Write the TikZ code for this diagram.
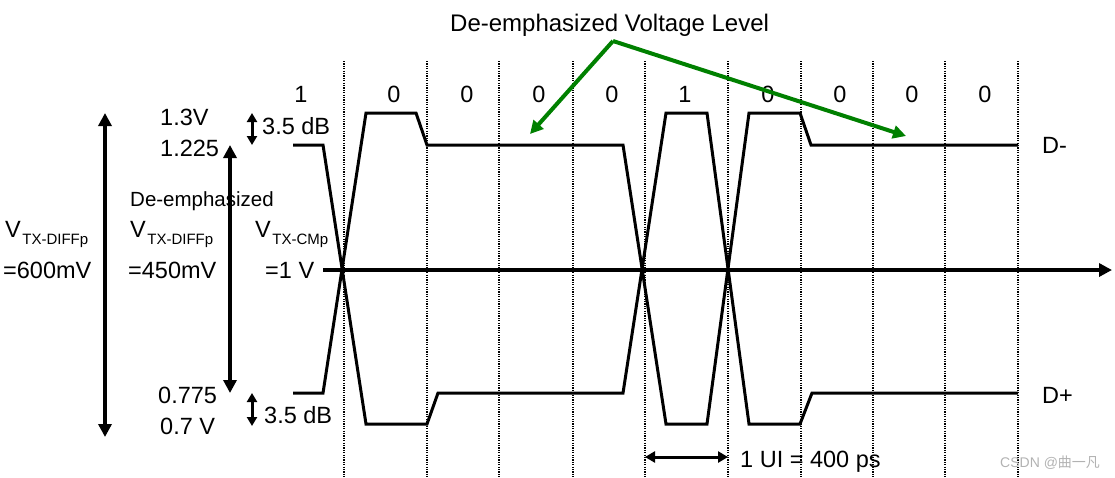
\documentclass[tikz,border=0pt]{standalone}
\usepackage{fontspec}
\setmainfont{Liberation Sans}
\newfontfamily\cjkfont{Noto Sans CJK SC}
\usetikzlibrary{arrows.meta}
\tikzset{>={Triangle[length=13pt,width=13pt]}}
\colorlet{background}{white}
\colorlet{penColor}{black}
\colorlet{penColor2}{green!50!black}
\colorlet{markColor}{black!30}
\tikzset{
  wave/.style={penColor, line width=3pt},
  slot/.style={penColor, line width=2pt, dash pattern=on 1.2pt off 1.2pt},
  lbl/.style={inner sep=0pt, anchor=base west, font=\fontsize{23.5}{28}\selectfont},
  bit/.style={inner sep=0pt, anchor=base, font=\fontsize{23.5}{28}\selectfont},
  small/.style={line width=3pt, {Triangle[length=9pt,width=10pt]}-{Triangle[length=9pt,width=10pt]}},
}
\newcommand{\vsub}[1]{V\kern1.5pt\raisebox{-7pt}{\fontsize{15}{18}\selectfont #1}}

\begin{document}
\begin{tikzpicture}[x=1pt,y=-1pt]
\useasboundingbox (0,0) rectangle (1115,477);
% unit interval boundaries
\foreach \x in {344,427,499,573,645,728,801,873,945,1018}
  \draw[slot] (\x,61) -- (\x,477);
% bit values
\foreach \x/\b in {301/1,394/0,467/0,539/0,612/0,685/1,768/0,840/0,912/0,985/0}
  \node[bit] at (\x,102) {\b};
% common mode axis
\coordinate (ax0) at (323,270);
\coordinate (ax1) at (1112,270);
\draw[penColor, line width=4pt, ->] (ax0) -- (ax1);
% the two waveforms
\draw[wave] (293,145) -- (323,145) -- (366,424) -- (427,424) -- (438,393) -- (623,393)
  -- (666,113) -- (707,113) -- (749,424) -- (800,424) -- (812,393) -- (1018,393);
\draw[wave] (293,393) -- (323,393) -- (366,113) -- (416,113) -- (427,145) -- (623,145)
  -- (666,424) -- (707,424) -- (749,113) -- (800,113) -- (811,145) -- (1018,145);
\node[lbl] (dm) at (1042,153) {D-};
\node[lbl] (dp) at (1042,403) {D+};
% swing arrows
\coordinate (full0) at (105,113);
\coordinate (full1) at (105,437);
\draw[penColor, line width=4.5pt, <->] (full0) -- (full1);
\coordinate (deem0) at (230,145);
\coordinate (deem1) at (230,393);
\draw[penColor, line width=4.5pt, <->] (deem0) -- (deem1);
\coordinate (db0) at (252,113);
\coordinate (db1) at (252,145);
\draw[small] (db0) -- (db1);
\coordinate (db2) at (252,393);
\coordinate (db3) at (252,426);
\draw[small] (db2) -- (db3);
% levels
\node[lbl] (v13) at (160,125) {1.3V};
\node[lbl] (v1225) at (160,156) {1.225};
\node[lbl] (v0775) at (158,403) {0.775};
\node[lbl] (v07) at (160,434) {0.7 V};
\node[lbl] (dbt) at (262,134) {3.5 dB};
\node[lbl] (dbb) at (264,423) {3.5 dB};
\node[lbl, font=\fontsize{20.5}{24}\selectfont] (deem) at (130,206) {De-emphasized};
\node[lbl] (vd1) at (5,237) {\vsub{TX-DIFFp}};
\node[lbl] (vd1v) at (3,278) {=600mV};
\node[lbl] (vd2) at (130,237) {\vsub{TX-DIFFp}};
\node[lbl] (vd2v) at (128,278) {=450mV};
\node[lbl] (vcm) at (255,237) {\vsub{TX-CMp}};
\node[lbl] (vcmv) at (265,278) {=1 V};
% unit interval
\coordinate (ui0) at (645,457);
\coordinate (ui1) at (728,457);
\draw[penColor, line width=3pt, {Triangle[length=10pt,width=11pt]}-{Triangle[length=10pt,width=11pt]}] (ui0) -- (ui1);
\node[lbl] (ui) at (740,467) {1 UI = 400 ps};
% de-emphasized level callout
\node[lbl, font=\fontsize{24}{28}\selectfont] (title) at (450,31) {De-emphasized Voltage Level};
\coordinate (src) at (613,41);
\coordinate (lvl1) at (530,134);
\coordinate (lvl2) at (906,136);
\draw[penColor2, line width=4pt, ->] (src) -- (lvl1);
\draw[penColor2, line width=4pt, ->] (src) -- (lvl2);
\node[inner sep=0pt, anchor=base west, markColor, font=\fontsize{14}{16}\selectfont] (wm) at (1000,467) {CSDN @{\cjkfont 曲一凡}};
\end{tikzpicture}
\end{document}
